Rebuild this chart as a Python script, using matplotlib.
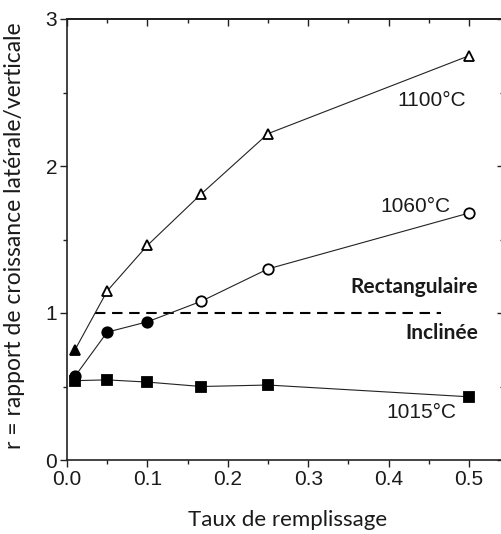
import matplotlib
matplotlib.use("Agg")
import matplotlib.pyplot as plt
from matplotlib.ticker import MultipleLocator

x = [0.01, 0.05, 0.1, 0.167, 0.25, 0.5]
r_1100 = [0.75, 1.15, 1.46, 1.81, 2.22, 2.75]
r_1060 = [0.57, 0.87, 0.94, 1.08, 1.30, 1.68]
r_1015 = [0.54, 0.545, 0.53, 0.50, 0.51, 0.43]
filled_1100 = [True, False, False, False, False, False]
filled_1060 = [True, True, True, False, False, False]
threshold = 1.0
threshold_span = [0.035, 0.465]

x_ticks = [0.0, 0.1, 0.2, 0.3, 0.4, 0.5]
y_ticks = [0, 1, 2, 3]

W, H = 502, 534
fig = plt.figure(figsize=(W / 100, H / 100), dpi=100)
left, right, top, bottom = 67, 504, 19, 460
ax = fig.add_axes([left / W, 1 - bottom / H, (right - left) / W, (bottom - top) / H])

num_font = "Liberation Sans"
txt_font = "Lato"
tcol = "#1a1a1a"

lw = 0.8
ms = 7.5

def draw(series, marker, filled):
    ax.plot(x, series, color="#222222", lw=lw, zorder=2)
    for xi, yi, f in zip(x, series, filled):
        ax.plot([xi], [yi], marker=marker, ms=ms, mew=1.3,
                mfc="black" if f else "white", mec="black", zorder=3, clip_on=False)

draw(r_1100, "^", filled_1100)
draw(r_1060, "o", filled_1060)
draw(r_1015, "s", [True] * len(x))

ax.plot(threshold_span, [threshold, threshold], color="black", lw=1.5,
        dashes=(5, 3.2), zorder=1)

ax.set_xlim(0, 0.5435)
ax.set_ylim(0, 3)
ax.set_xticks(x_ticks)
ax.set_xticklabels([f"{v:.1f}" for v in x_ticks])
ax.set_yticks(y_ticks)
ax.set_yticklabels([str(v) for v in y_ticks])
ax.xaxis.set_minor_locator(MultipleLocator(0.05))
ax.yaxis.set_minor_locator(MultipleLocator(0.5))
ax.tick_params(which="major", direction="out", length=5, width=1, colors="#222222",
               labelsize=15, pad=2)
ax.tick_params(which="minor", direction="out", length=3, width=1, colors="#222222")
for lab_ in ax.get_xticklabels() + ax.get_yticklabels():
    lab_.set_family(num_font)
    lab_.set_color(tcol)

for sp in ax.spines.values():
    sp.set_linewidth(1.2)
    sp.set_color("#222222")

secx = ax.secondary_xaxis("top")
secx.set_xticks(x_ticks)
secx.xaxis.set_minor_locator(MultipleLocator(0.05))
secx.tick_params(which="major", direction="in", length=5, width=1, labeltop=False, colors="#222222")
secx.tick_params(which="minor", direction="in", length=3, width=1, colors="#222222")
secx.spines["top"].set_linewidth(1.2)
secy = ax.secondary_yaxis("right")
secy.set_yticks(y_ticks)
secy.yaxis.set_minor_locator(MultipleLocator(0.5))
secy.tick_params(which="major", direction="in", length=5, width=1, labelright=False, colors="#222222")
secy.tick_params(which="minor", direction="in", length=3, width=1, colors="#222222")

fig.text(288 / W, 1 - 520 / H, "Taux de remplissage", ha="center", va="center",
         family=txt_font, fontsize=16, color=tcol)
fig.text(15 / W, 1 - 236 / H, "r = rapport de croissance latérale/verticale",
         ha="center", va="center", rotation=90, family=txt_font, fontsize=16.5, color=tcol)

def lab(px, py, s, ha="center", font=num_font, size=15, weight="normal"):
    fig.text(px / W, 1 - py / H, s, ha=ha, va="center", family=font,
             fontsize=size, color=tcol, fontweight=weight)

lab(432, 101, "1100°C")
lab(415, 207, "1060°C")
lab(478, 287, "Rectangulaire", ha="right", font=txt_font, size=15, weight="bold")
lab(478, 333, "Inclinée", ha="right", font=txt_font, size=15, weight="bold")
lab(421, 413, "1015°C")

fig.savefig("out.png", dpi=100)
